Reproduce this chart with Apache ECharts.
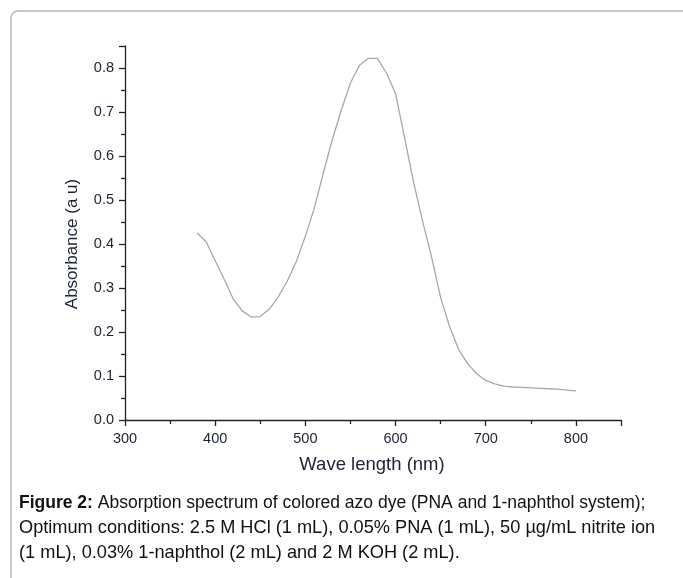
<!DOCTYPE html>
<html>
<head>
<meta charset="utf-8">
<script src="https://cdn.jsdelivr.net/npm/echarts@6/dist/echarts.min.js"></script>
<style>
html,body{margin:0;padding:0;background:#fff;}
#c{width:683px;height:578px;}
</style>
</head>
<body>
<div id="c"></div>
<script>
const wavelengths = [380,390,400,410,420,430,440,450,460,470,480,490,500,510,520,530,540,550,560,570,580,590,600,610,620,630,640,650,660,670,680,690,700,710,720,730,740,750,760,770,780,790,800];
const absorbance  = [0.425,0.405,0.362,0.320,0.275,0.248,0.234,0.235,0.252,0.280,0.316,0.360,0.418,0.482,0.562,0.638,0.705,0.766,0.806,0.822,0.822,0.788,0.742,0.642,0.540,0.452,0.370,0.278,0.212,0.160,0.128,0.105,0.090,0.082,0.077,0.075,0.074,0.073,0.072,0.071,0.070,0.068,0.066];
const xAxisTitle = 'Wave length (nm)';
const yAxisTitle = 'Absorbance (a u)';
const captionBold = 'Figure 2:';
const captionLines = [
  ' Absorption spectrum of colored azo dye (PNA and 1-naphthol system);',
  'Optimum conditions: 2.5 M HCl (1 mL), 0.05% PNA (1 mL), 50 µg/mL nitrite ion',
  '(1 mL), 0.03% 1-naphthol (2 mL) and 2 M KOH (2 mL).'
];

const chart = echarts.init(document.getElementById('c'), null, {renderer:'canvas'});
const font = '"Liberation Sans", Arial, sans-serif';
const axisCol = '#222';
chart.setOption({
  animation:false,
  backgroundColor:'#fff',
  grid:{left:125, top:46, right:62, bottom:158},
  xAxis:{
    type:'value', min:300, max:850, interval:100,
    axisLine:{show:true, lineStyle:{color:axisCol, width:1.3}},
    axisTick:{show:true, inside:false, length:6, lineStyle:{color:axisCol, width:1.3}},
    minorTick:{show:true, splitNumber:2, length:4, lineStyle:{color:axisCol, width:1.3}},
    splitLine:{show:false},
    axisLabel:{fontFamily:font, fontSize:14.5, color:'#1c2233', margin:11,
      formatter:function(v){return v>800?'':String(v);}}
  },
  yAxis:{
    type:'value', min:0, max:0.85, interval:0.1,
    axisLine:{show:true, lineStyle:{color:axisCol, width:1.3}},
    axisTick:{show:true, inside:false, length:6, lineStyle:{color:axisCol, width:1.3}},
    minorTick:{show:true, splitNumber:2, length:4, lineStyle:{color:axisCol, width:1.3}},
    splitLine:{show:false},
    axisLabel:{fontFamily:font, fontSize:14.5, color:'#1c2233', margin:11,
      formatter:function(v){return v>0.81?'':v.toFixed(1);}}
  },
  series:[{
    type:'line',
    data:wavelengths.map((w,i)=>[w, absorbance[i]]),
    showSymbol:false,
    smooth:false,
    lineStyle:{color:'#a8a8a8', width:1.3}
  }],
  graphic:[
    {type:'rect', shape:{x:11, y:11, width:720, height:620, r:7},
     style:{fill:'none', stroke:'#b8b8b8', lineWidth:1.5}, z:-1},
    {type:'text', x:372, y:465, style:{text:xAxisTitle, font:'18.5px '+font, fill:'#1c2233', textAlign:'center', textVerticalAlign:'middle'}},
    {type:'text', x:72, y:244, rotation:Math.PI/2, style:{text:yAxisTitle, font:'17px '+font, fill:'#1c2233', textAlign:'center', textVerticalAlign:'middle'}},
    {type:'text', x:19, y:503, style:{text:'{b|'+captionBold+'}{n|'+captionLines[0]+'}', font:'17.5px '+font, fill:'#111', textVerticalAlign:'middle',
      rich:{b:{fontWeight:'bold', fontSize:17.5, fontFamily:font, fill:'#111'}, n:{fontSize:17.5, fontFamily:font, fill:'#111'}}}},
    {type:'text', x:19, y:528, style:{text:captionLines[1], font:'18.2px '+font, fill:'#111', textVerticalAlign:'middle'}},
    {type:'text', x:19, y:553, style:{text:captionLines[2], font:'18.2px '+font, fill:'#111', textVerticalAlign:'middle'}}
  ]
});
</script>
</body>
</html>
